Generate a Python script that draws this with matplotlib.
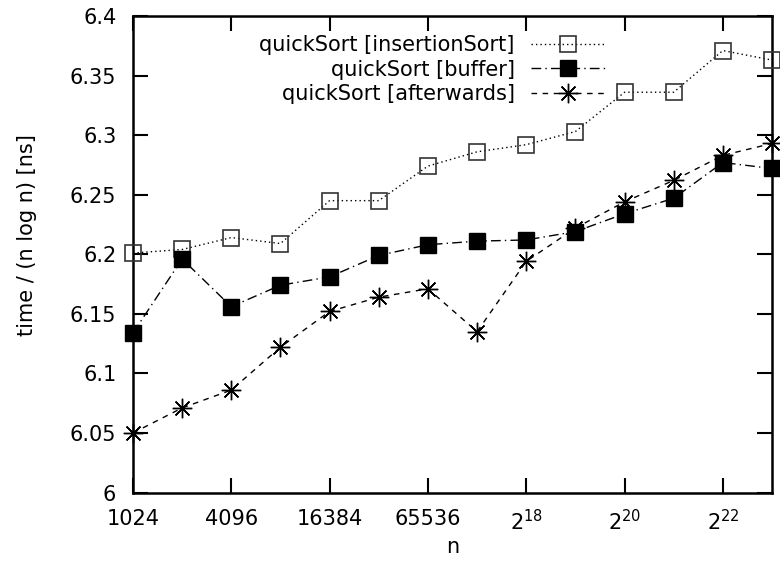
import numpy as np
import matplotlib
matplotlib.use('Agg')
import matplotlib.pyplot as plt

# Daten
exponents = [10, 11, 12, 13, 14, 15, 16, 17, 18, 19, 20, 21, 22, 23]
n_values = [2 ** e for e in exponents]

insertion_sort = [6.201, 6.204, 6.214, 6.209, 6.245, 6.245, 6.274,
                  6.286, 6.292, 6.303, 6.336, 6.336, 6.371, 6.363]
buffer_sort = [6.134, 6.196, 6.156, 6.174, 6.181, 6.199, 6.208,
               6.211, 6.212, 6.219, 6.234, 6.247, 6.277, 6.272]
afterwards_sort = [6.050, 6.071, 6.086, 6.122, 6.152, 6.164, 6.171,
                   6.135, 6.194, 6.222, 6.244, 6.262, 6.283, 6.293]

xtick_values = [1024, 4096, 16384, 65536, 2 ** 18, 2 ** 20, 2 ** 22]
xtick_labels = ['1024', '4096', '16384', '65536', r'$2^{18}$', r'$2^{20}$', r'$2^{22}$']
ytick_values = [6.0, 6.05, 6.1, 6.15, 6.2, 6.25, 6.3, 6.35, 6.4]
ytick_labels = ['6', '6.05', '6.1', '6.15', '6.2', '6.25', '6.3', '6.35', '6.4']

plt.rcParams['font.family'] = ['DejaVu Sans']
plt.rcParams['mathtext.fontset'] = 'dejavusans'
plt.rcParams['mathtext.default'] = 'regular'
fs = 15

fig = plt.figure(figsize=(7.8, 5.64), dpi=100)
ax = fig.add_axes([133 / 780, 1 - 492.5 / 564, (772 - 133) / 780, (492.5 - 16) / 564])

ax.plot(n_values, insertion_sort, color='black', linewidth=1, dashes=(1, 2.2),
        marker='s', markersize=11, markerfacecolor='none', markeredgecolor='#333333',
        markeredgewidth=1.2, clip_on=False, zorder=3, label='quickSort [insertionSort]')
ax.plot(n_values, buffer_sort, color='black', linewidth=1, dashes=(7, 3, 1, 3),
        marker='s', markersize=11, markerfacecolor='black', markeredgecolor='black',
        clip_on=False, zorder=3, label='quickSort [buffer]')
ax.plot(n_values, afterwards_sort, color='black', linewidth=1, dashes=(4, 4),
        marker=(8, 2, 0), markersize=14, markeredgewidth=1, markeredgecolor='black',
        clip_on=False, zorder=3, label='quickSort [afterwards]')

ax.set_xscale('log', base=2)
ax.set_xlim(2 ** 10, 2 ** 23)
ax.set_ylim(6.0, 6.4)
ax.set_xticks(xtick_values)
ax.set_xticklabels(xtick_labels)
ax.xaxis.set_minor_locator(matplotlib.ticker.NullLocator())
ax.set_yticks(ytick_values)
ax.set_yticklabels(ytick_labels)

ax.tick_params(axis='both', which='major', direction='in', length=11, width=1.5,
               top=True, right=True, labelsize=fs)
ax.tick_params(axis='y', pad=12)
ax.tick_params(axis='x', pad=12)
for sp in ax.spines.values():
    sp.set_linewidth(1.8)

ax.set_xlabel('n', fontsize=fs, labelpad=2)
ax.set_ylabel('time / (n log n) [ns]', fontsize=fs)
ax.yaxis.set_label_coords(-0.151, 0.54)

ax.legend(loc='upper right', bbox_to_anchor=(0.739, 0.96), frameon=False,
          markerfirst=False, handlelength=3.55, handletextpad=0.8,
          labelspacing=0.22, fontsize=fs, borderpad=0, borderaxespad=0)

plt.savefig('out.png', dpi=100)
